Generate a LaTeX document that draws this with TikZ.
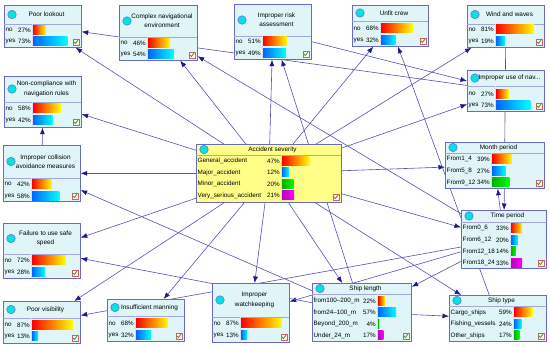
\documentclass[tikz,border=0pt]{standalone}
\usepackage{fontspec}
\setmainfont{Liberation Sans}
\usetikzlibrary{
  arrows.meta,
  backgrounds
}
\definecolor{NodeCyan}{HTML}{DFF5F7}
\definecolor{NodeYellow}{HTML}{FFFF88}
\definecolor{BorderBlue}{HTML}{6A6AC8}
\definecolor{LineBlue}{HTML}{5252B4}
\definecolor{TipNavy}{HTML}{1A1A8C}
\definecolor{BulbCyan}{HTML}{00E4E4}
\definecolor{TickRed}{HTML}{C86464}
\definecolor{TickGreen}{HTML}{3C9A32}
\tikzset{
  netbox/.style={
    draw=BorderBlue,
    fill=NodeCyan,
    line width=0.7pt,
    inner sep=0pt
  },
  severity/.style={
    fill=NodeYellow
  },
  headline/.style={
    draw=BorderBlue!60,
    line width=0.5pt
  },
  colline/.style={
    draw=BorderBlue!25,
    line width=0.4pt
  },
  bulb/.style={
    circle,
    draw=BorderBlue,
    fill=BulbCyan,
    line width=0.5pt,
    minimum size=8.5pt,
    inner sep=0pt
  },
  nodetitle/.style={
    align=center,
    inner sep=0pt,
    font=\fontsize{6.4}{9.4}\selectfont
  },
  rowtext/.style={
    inner sep=0.5pt
  },
  tickbox/.style={
    draw=TickRed,
    fill=white!92!orange,
    line width=0.5pt
  },
  tickmark/.style={
    draw=TickGreen,
    line width=0.8pt
  },
  barA/.style={
    left color=red,
    right color=yellow
  },
  barB/.style={
    left color=blue!60!cyan,
    right color=cyan
  },
  barC/.style={
    left color=green!70!black,
    right color=green
  },
  barD/.style={
    left color=magenta!75!black,
    right color=magenta
  },
  connection/.style={
    draw=LineBlue,
    line width=0.6pt,
    -{Latex[length=6.5pt,width=5pt,color=TipNavy]}
  }
}
% frame of one network node: [style] name, x1, y1, x2, y2, header line, bar start, title
\newcommand{\netnode}[9][]{%
  \node[netbox, #1, anchor=north west,
    minimum width={(#5-#3)*1pt}, minimum height={(#6-#4)*1pt}] (#2) at (#3,#4) {};
  \draw[headline] (#3,#7) -- (#5,#7);
  \draw[colline] ({#8-1},#7) -- ({#8-1},#6);
  \node[bulb] at ({#3+8},{(#4+#7)/2}) {};
  \node[nodetitle] at ({(#3+#5)/2+4},{(#4+#7)/2}) {#9};
  \draw[tickbox] ({#5-8},{#6-8}) rectangle ({#5-2},{#6-2});
  \draw[tickmark] ({#5-7},{#6-5}) -- ({#5-5.6},{#6-3.4}) -- ({#5-3},{#6-7});
}
% one state row: x1, x2, bar start, y, label, percent, bar style
\newcommand{\netrow}[7]{%
  \node[rowtext, anchor=west] at ({#1+1},#4) {#5};
  \node[rowtext, anchor=east] at ({#3-1.5},#4) {#6\%};
  \path[#7] (#3,{#4-4.5}) rectangle ({#3+(#2-1-#3)*#6/100},{#4+4.5});
}

\begin{document}
\begin{tikzpicture}[
  x=1pt,
  y=-1pt,
  font=\fontsize{6.3}{7.4}\selectfont
]
  \useasboundingbox (0,0) rectangle (550,347);

  % top row
  \netnode{pl}{4}{5}{81}{47}{24}{33}{Poor lookout}
  \netrow{4}{81}{33}{30}{no}{27}{barA}
  \netrow{4}{81}{33}{41.5}{yes}{73}{barB}

  \netnode{cne}{119}{5}{197}{60}{37}{148}{Complex navigational\\environment}
  \netrow{119}{197}{148}{43}{no}{46}{barA}
  \netrow{119}{197}{148}{54.5}{yes}{54}{barB}

  \netnode{ira}{234}{4}{311}{59}{36}{263}{Improper risk\\assessment}
  \netrow{234}{311}{263}{41.5}{no}{51}{barA}
  \netrow{234}{311}{263}{53.5}{yes}{49}{barB}

  \netnode{uc}{352}{5}{428}{46}{21}{381}{Unfit crew}
  \netrow{352}{428}{381}{28.5}{no}{68}{barA}
  \netrow{352}{428}{381}{40.5}{yes}{32}{barB}

  \netnode{ww}{467}{5}{544}{47}{24}{496}{Wind and waves}
  \netrow{467}{544}{496}{29.5}{no}{81}{barA}
  \netrow{467}{544}{496}{41.5}{yes}{19}{barB}

  \netnode{iu}{467}{70}{544}{111}{86}{496}{Improper use of nav...}
  \netrow{467}{544}{496}{94}{no}{27}{barA}
  \netrow{467}{544}{496}{105.5}{yes}{73}{barB}

  % left column
  \netnode{nc}{4}{76}{81}{127}{102}{33}{Non-compliance with\\navigation rules}
  \netrow{4}{81}{33}{108.5}{no}{58}{barA}
  \netrow{4}{81}{33}{120}{yes}{42}{barB}

  \netnode{ic}{3}{145}{80}{201}{178}{32}{Improper collision\\avoidance measures}
  \netrow{3}{80}{32}{184}{no}{42}{barA}
  \netrow{3}{80}{32}{196}{yes}{58}{barB}

  \netnode{fs}{3}{223}{80}{278}{254}{32}{Failure to use safe\\speed}
  \netrow{3}{80}{32}{260.5}{no}{72}{barA}
  \netrow{3}{80}{32}{272}{yes}{28}{barB}

  \netnode{pv}{3}{301}{80}{343}{318}{32}{Poor visibility}
  \netrow{3}{80}{32}{325}{no}{87}{barA}
  \netrow{3}{80}{32}{336.5}{yes}{13}{barB}

  % bottom row
  \netnode{im}{107}{299}{184}{341}{316}{136}{Insufficient manning}
  \netrow{107}{184}{136}{323.5}{no}{68}{barA}
  \netrow{107}{184}{136}{335}{yes}{32}{barB}

  \netnode{iw}{212}{283}{289}{342}{317}{241}{Improper\\watchkeeping}
  \netrow{212}{289}{241}{323.5}{no}{87}{barA}
  \netrow{212}{289}{241}{335.5}{yes}{13}{barB}

  \netnode{sl}{312}{283}{411}{341}{294}{378}{Ship length}
  \netrow{312}{411}{378}{301}{from100--200\_m}{22}{barA}
  \netrow{312}{411}{378}{312.5}{from24--100\_m}{57}{barB}
  \netrow{312}{411}{378}{324}{Beyond\_200\_m}{4}{barC}
  \netrow{312}{411}{378}{335.5}{Under\_24\_m}{17}{barD}

  \netnode{st}{449}{295}{546}{341}{306}{514}{Ship type}
  \netrow{449}{546}{514}{312.5}{Cargo\_ships}{59}{barA}
  \netrow{449}{546}{514}{324}{Fishing\_vessels}{24}{barB}
  \netrow{449}{546}{514}{335.5}{Other\_ships}{17}{barC}

  % right column
  \netnode{mp}{445}{142}{544}{188}{153}{492}{Month period}
  \netrow{445}{544}{492}{159}{From1\_4}{39}{barA}
  \netrow{445}{544}{492}{171}{From5\_8}{27}{barB}
  \netrow{445}{544}{492}{182.5}{From9\_12}{34}{barC}

  \netnode{tp}{461}{210}{546}{268}{222}{511}{Time period}
  \netrow{461}{546}{511}{228}{From0\_6}{33}{barA}
  \netrow{461}{546}{511}{240}{From6\_12}{20}{barB}
  \netrow{461}{546}{511}{251.5}{From12\_18}{14}{barC}
  \netrow{461}{546}{511}{263}{From18\_24}{33}{barD}

  % class node
  \netnode[severity]{as}{196}{144}{341}{202}{155}{282}{Accident severity}
  \netrow{196}{341}{282}{161}{General\_accident}{47}{barA}
  \netrow{196}{341}{282}{172.5}{Major\_accident}{12}{barB}
  \netrow{196}{341}{282}{184}{Minor\_accident}{20}{barC}
  \netrow{196}{341}{282}{195.5}{Very\_serious\_accident}{21}{barD}

  \begin{pgfonlayer}{background}
    \foreach \child in {pl,cne,ira,uc,ww,iu,nc,ic,fs,pv,im,iw,sl,st,mp,tp}
      \draw[connection] (as) -- (\child);

    \draw[connection] (iu) -- (pl);
    \draw[connection] (ira) -- (iu);
    \draw[connection] (ww) -- (tp);
    \draw[connection] (tp) -- (mp);
    \draw[connection] (tp) -- (cne);
    \draw[connection] (tp) -- (iw);
    \draw[connection] (tp) -- (sl);
    \draw[connection] (tp) -- (pv);
    \draw[connection] (st) -- (uc);
    \draw[connection] (sl) -- (ira);
    \draw[connection] (sl) -- (ic);
    \draw[connection] (sl) -- (fs);
    \draw[connection] (sl) -- (st);
    \draw[connection] (ic) -- (nc);
  \end{pgfonlayer}

\end{tikzpicture}
\end{document}
